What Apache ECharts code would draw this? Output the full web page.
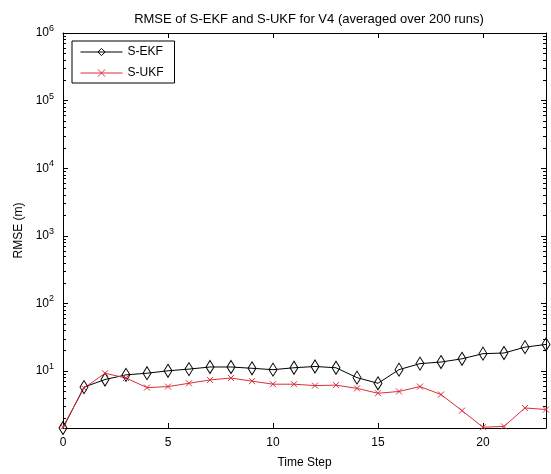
<!DOCTYPE html>
<html>
<head>
<meta charset="utf-8">
<script src="https://cdn.jsdelivr.net/npm/echarts@6/dist/echarts.min.js"></script>
<style>html,body{margin:0;padding:0;background:#fff}#c{width:551px;height:474px}</style>
</head>
<body>
<div id="c"></div>
<script>
const timeSteps = [0,1,2,3,4,5,6,7,8,9,10,11,12,13,14,15,16,17,18,19,20,21,22,23];
const ekf = [1.44,5.8,7.5,8.8,9.3,10.1,10.7,11.5,11.5,11.0,10.5,11.2,11.7,11.2,8.0,6.6,10.5,12.9,13.6,15.2,18.1,18.5,22.6,24.8];
const ukf = [1.5,5.6,9.3,7.9,5.7,5.9,6.6,7.4,7.9,7.1,6.4,6.4,6.1,6.2,5.55,4.7,5.0,5.9,4.5,2.6,1.48,1.52,2.85,2.7];
const xTicks = [0,5,10,15,20];
const yTicks = [10,100,1000,10000,100000,1000000];
const yMin = 1.44, yMax = 1e6;
const minorTicks = [];
for (let k = 0; k < 6; k++) for (let m = 2; m <= 9; m++) { const v = m * Math.pow(10, k); if (v > yMin && v < yMax) minorTicks.push(v); }

const FONT = "'Liberation Sans', Arial, sans-serif";
const black = '#000';
const red = '#d8303a';

function xAx(pos, labels) {
  return {
    type: 'value', position: pos, min: 0, max: 23, gridIndex: 0,
    axisLine: {show: true, lineStyle: {color: black, width: 1}},
    axisTick: {show: true, inside: true, length: 5, customValues: xTicks, lineStyle: {color: black}},
    axisLabel: {show: labels, customValues: xTicks, color: black, fontSize: 12, fontFamily: FONT, margin: 9},
    splitLine: {show: false},
    name: labels ? 'Time Step' : '', nameLocation: 'middle', nameGap: 29,
    nameTextStyle: {color: black, fontSize: 12, fontFamily: FONT}
  };
}
function yAx(pos, labels, ticks, len, line) {
  return {
    type: 'log', logBase: 10, position: pos, min: yMin, max: yMax,
    axisLine: {show: line, onZero: false, lineStyle: {color: black, width: 1}},
    axisTick: {show: true, inside: true, length: len, customValues: ticks, lineStyle: {color: black}},
    axisLabel: {
      show: labels, customValues: yTicks, color: black, margin: 9,
      formatter: v => '{b|10}{s|' + Math.round(Math.log10(v)) + '}',
      rich: {
        b: {fontSize: 12, fontFamily: FONT, color: black},
        s: {fontSize: 9, fontFamily: FONT, color: black, padding: [0, 0, 9, 0]}
      }
    },
    splitLine: {show: false},
    name: labels ? 'RMSE (m)' : '', nameLocation: 'middle', nameGap: 30,
    nameTextStyle: {color: black, fontSize: 12, fontFamily: FONT}
  };
}

const chart = echarts.init(document.getElementById('c'), null, {renderer: 'canvas'});
chart.setOption({
  backgroundColor: '#fff',
  animation: false,
  title: {
    text: 'RMSE of S-EKF and S-UKF for V4 (averaged over 200 runs)',
    left: 304, textAlign: 'center', top: 8,
    textStyle: {color: black, fontSize: 13, fontWeight: 'normal', fontFamily: FONT}
  },
  grid: {left: 63, right: 5, top: 33, bottom: 46},
  legend: {
    orient: 'vertical', left: 72, top: 41,
    itemWidth: 42, itemHeight: 9, itemGap: 9, itemTextGap: 10,
    padding: [5, 11, 4, 8],
    borderColor: black, borderWidth: 1, backgroundColor: '#fff',
    lineStyle: {width: 1},
    itemStyle: {borderWidth: 1},
    textStyle: {color: black, fontSize: 12, fontFamily: FONT},
    data: ['S-EKF', 'S-UKF']
  },
  xAxis: [xAx('bottom', true), xAx('top', false)],
  yAxis: [
    yAx('left', true, yTicks, 5, true),
    yAx('right', false, yTicks, 5, true),
    yAx('left', false, minorTicks, 3, false),
    yAx('right', false, minorTicks, 3, false)
  ],
  series: [
    {
      name: 'S-EKF', type: 'line', xAxisIndex: 0, yAxisIndex: 0, clip: false,
      data: timeSteps.map((t, i) => [t, ekf[i]]),
      symbol: 'diamond', symbolSize: [8, 13], showAllSymbol: true,
      lineStyle: {color: black, width: 1},
      itemStyle: {color: 'rgba(255,255,255,0)', borderColor: black, borderWidth: 1}
    },
    {
      name: 'S-UKF', type: 'line', xAxisIndex: 0, yAxisIndex: 0, clip: false,
      data: timeSteps.map((t, i) => [t, ukf[i]]),
      symbol: 'path://M0,0L10,10M0,10L10,0', symbolSize: 6, showAllSymbol: true,
      lineStyle: {color: red, width: 1},
      itemStyle: {color: red, borderColor: red, borderWidth: 1}
    }
  ]
});
</script>
</body>
</html>
